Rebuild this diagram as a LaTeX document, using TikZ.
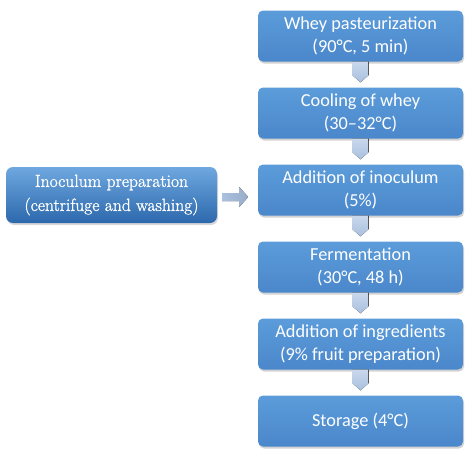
\documentclass[tikz,border=0pt]{standalone}
\usepackage{fontspec}
\setmainfont{Carlito}
\newfontfamily\leftfont[FakeBold=1.2]{Latin Modern Roman}
\usetikzlibrary{calc,shadows}
\definecolor{boxtop}{HTML}{5C9CDA}
\definecolor{boxbot}{HTML}{4A87CB}
\definecolor{lefttop}{HTML}{6FA8E0}
\definecolor{leftbot}{HTML}{2C68AC}
\definecolor{arrtop}{HTML}{C9D8EC}
\definecolor{arrbot}{HTML}{A9C0DE}
\tikzset{
  stepbox/.style={rectangle, rounded corners=5pt, minimum width=205pt, minimum height=51pt,
    top color=boxtop, bottom color=boxbot, draw=none, text=white, align=center,
    font=\fontsize{18.3}{23}\selectfont,
    drop shadow={opacity=0.35, shadow xshift=1pt, shadow yshift=-2pt}},
  prepbox/.style={rectangle, rounded corners=7pt, minimum width=211pt, minimum height=56pt,
    top color=lefttop, bottom color=leftbot, draw=none, text=white, align=center,
    font=\leftfont\fontsize{17.6}{24}\selectfont,
    drop shadow={opacity=0.3, shadow xshift=1pt, shadow yshift=-2pt}},
  downarr/.style={top color=arrtop, bottom color=arrbot, draw=none},
  rightarr/.style={left color=arrbot, right color=arrbot!90!black, draw=none}
}
\begin{document}
\begin{tikzpicture}[x=1pt,y=-1pt]
\useasboundingbox[fill=white] (0,0) rectangle (474,458);
\node[stepbox] (s1) at (360.5,36) {Whey pasteurization\\(90°C, 5 min)};
\node[stepbox] (s2) at (360.5,113) {Cooling of whey\\(30–32°C)};
\node[stepbox] (s3) at (360.5,190) {Addition of inoculum\\(5\%)};
\node[stepbox] (s4) at (360.5,267) {Fermentation\\(30°C, 48 h)};
\node[stepbox] (s5) at (360.5,344) {Addition of ingredients\\(9\% fruit preparation)};
\node[stepbox] (s6) at (360.5,421) {Storage (4°C)};
\node[prepbox] (p) at (111.5,195) {Inoculum preparation\\(centrifuge and washing)};
\foreach \a/\b in {s1/s2,s2/s3,s3/s4,s4/s5,s5/s6}{
  \fill[downarr] ($(\a.south)+(-8,0)$) -- ($(\a.south)+(8,0)$) -- ($(\b.north)+(8,-12)$)
    -- ($(\b.north)+(0,-5)$) -- ($(\b.north)+(-8,-12)$) -- cycle;
}
\fill[rightarr] ($(p.east)+(5,-2)$) -- ($(p.east)+(22,-2)$) -- ($(p.east)+(22,-8)$)
  -- ($(p.east)+(31,2)$) -- ($(p.east)+(22,12)$) -- ($(p.east)+(22,6)$)
  -- ($(p.east)+(5,6)$) -- cycle;
\end{tikzpicture}
\end{document}
